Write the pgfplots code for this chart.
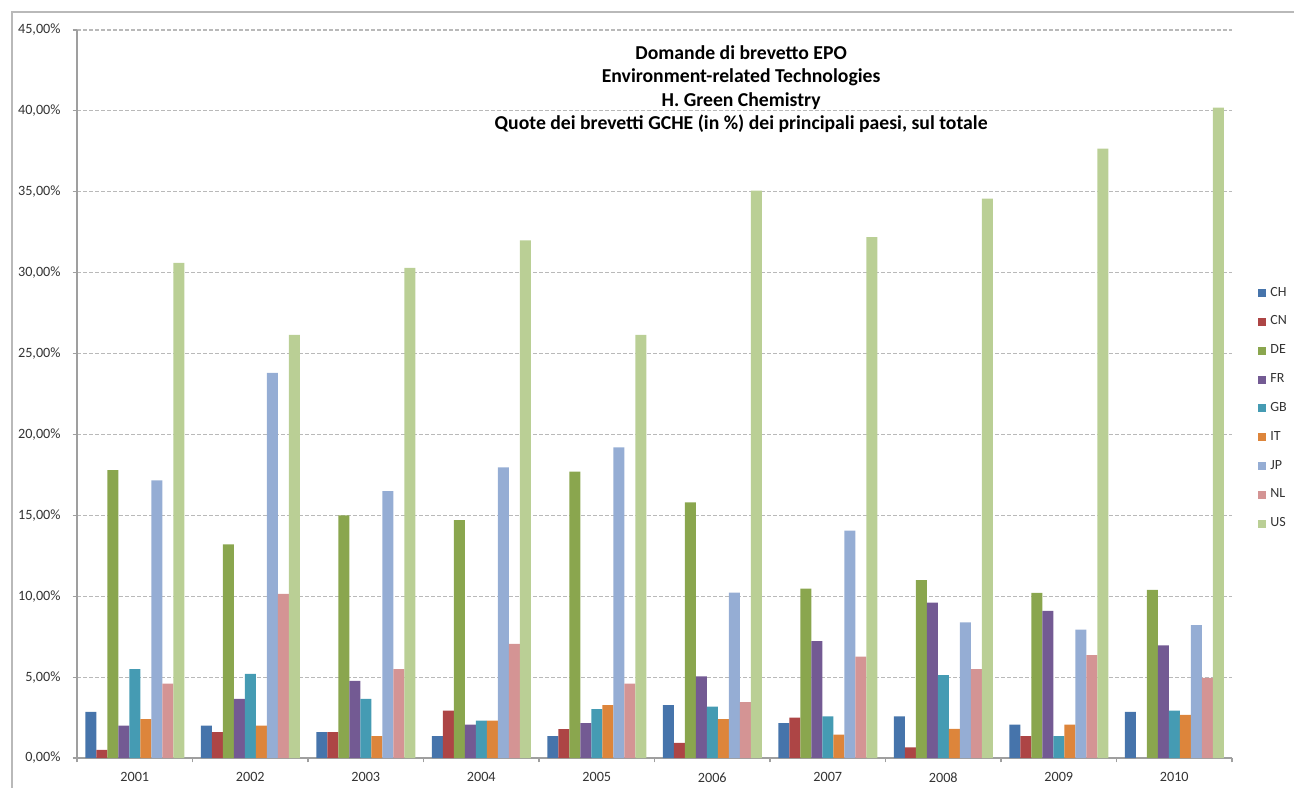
\documentclass[border=0pt]{standalone}
\usepackage{fontspec}
\setmainfont{Carlito}
\usepackage{pgfplots}
\pgfplotsset{compat=1.18}
\definecolor{cCH}{HTML}{4674AB}
\definecolor{cCN}{HTML}{AD4545}
\definecolor{cDE}{HTML}{8AA64E}
\definecolor{cFR}{HTML}{735A93}
\definecolor{cGB}{HTML}{459BB3}
\definecolor{cIT}{HTML}{DD853B}
\definecolor{cJP}{HTML}{95ADD4}
\definecolor{cNL}{HTML}{D49494}
\definecolor{cUS}{HTML}{BACF95}
\begin{document}
\begin{tikzpicture}[x=1pt,y=1pt]
\useasboundingbox (0,0) rectangle (647,393.5);
\draw[gray!55, line width=0.9pt] (6,-10) -- (6,387.5) -- (700,387.5);
\begin{axis}[
  at={(38.5pt,14.5pt)}, anchor=south west,
  scale only axis, width=577.5pt, height=364pt,
  xmin=-0.5, xmax=9.5, ymin=0, ymax=45,
  ybar=0pt, bar width=5.5pt,
  separate axis lines,
  axis x line*=bottom, axis y line*=left,
  x axis line style={-, gray!75, line width=0.6pt},
  y axis line style={-, gray!75, line width=0.6pt},
  xtick={-0.5,0.5,1.5,2.5,3.5,4.5,5.5,6.5,7.5,8.5,9.5},
  x tick label as interval,
  xticklabels={2001,2002,2003,2004,2005,2006,2007,2008,2009,2010},
  ytick={0,5,10,15,20,25,30,35,40,45},
  yticklabels={{0,00\%},{5,00\%},{10,00\%},{15,00\%},{20,00\%},{25,00\%},{30,00\%},{35,00\%},{40,00\%},{45,00\%}},
  tick align=outside, major tick length=2.2pt,
  tick style={gray!75, line width=0.6pt},
  ymajorgrids, grid style={gray!55, line width=0.6pt, dash pattern=on 2pt off 1pt},
  ticklabel style={font=\fontsize{7.1}{8}\selectfont, text=black!80},
  xticklabel style={yshift=-1.5pt},
  yticklabel style={xshift=-2.5pt},
  legend style={at={(rel axis cs:1.0225,0.653)}, anchor=north west, draw=none, fill=none,
    font=\fontsize{7}{8}\selectfont, row sep=4.4pt, inner sep=0pt, text=black!80},
  legend cell align=left,
  legend image code/.code={\fill[#1,draw=none] (0pt,-2pt) rectangle (4pt,2pt);},
  clip=false,
]
\addplot[fill=cCH, draw=none] coordinates {(0,2.85) (1,2.0) (2,1.6) (3,1.36) (4,1.36) (5,3.27) (6,2.15) (7,2.58) (8,2.06) (9,2.85)};
\addplot[fill=cCN, draw=none] coordinates {(0,0.5) (1,1.6) (2,1.6) (3,2.93) (4,1.78) (5,0.93) (6,2.5) (7,0.66) (8,1.36)};
\addplot[fill=cDE, draw=none] coordinates {(0,17.8) (1,13.2) (2,15.0) (3,14.7) (4,17.7) (5,15.8) (6,10.47) (7,11.0) (8,10.2) (9,10.39)};
\addplot[fill=cFR, draw=none] coordinates {(0,2.0) (1,3.65) (2,4.77) (3,2.06) (4,2.15) (5,5.04) (6,7.23) (7,9.6) (8,9.09) (9,6.96)};
\addplot[fill=cGB, draw=none] coordinates {(0,5.5) (1,5.2) (2,3.65) (3,2.31) (4,3.02) (5,3.18) (6,2.58) (7,5.12) (8,1.36) (9,2.93)};
\addplot[fill=cIT, draw=none] coordinates {(0,2.4) (1,2.0) (2,1.36) (3,2.31) (4,3.27) (5,2.4) (6,1.44) (7,1.8) (8,2.06) (9,2.66)};
\addplot[fill=cJP, draw=none] coordinates {(0,17.16) (1,23.8) (2,16.5) (3,17.97) (4,19.2) (5,10.22) (6,14.05) (7,8.38) (8,7.93) (9,8.22)};
\addplot[fill=cNL, draw=none] coordinates {(0,4.6) (1,10.15) (2,5.5) (3,7.06) (4,4.6) (5,3.45) (6,6.26) (7,5.5) (8,6.36) (9,4.95)};
\addplot[fill=cUS, draw=none] coordinates {(0,30.6) (1,26.15) (2,30.3) (3,32.0) (4,26.15) (5,35.07) (6,32.2) (7,34.57) (8,37.67) (9,40.2)};
\legend{CH,CN,DE,FR,GB,IT,JP,NL,US}
\node[align=center, anchor=north, inner sep=0pt, font=\bfseries\fontsize{9.85}{11.7}\selectfont]
  at (rel axis cs:0.575,0.979)
  {Domande di brevetto EPO\\Environment-related Technologies\\H. Green Chemistry\\Quote dei brevetti GCHE (in \%) dei principali paesi, sul totale};
\end{axis}
\end{tikzpicture}
\end{document}
